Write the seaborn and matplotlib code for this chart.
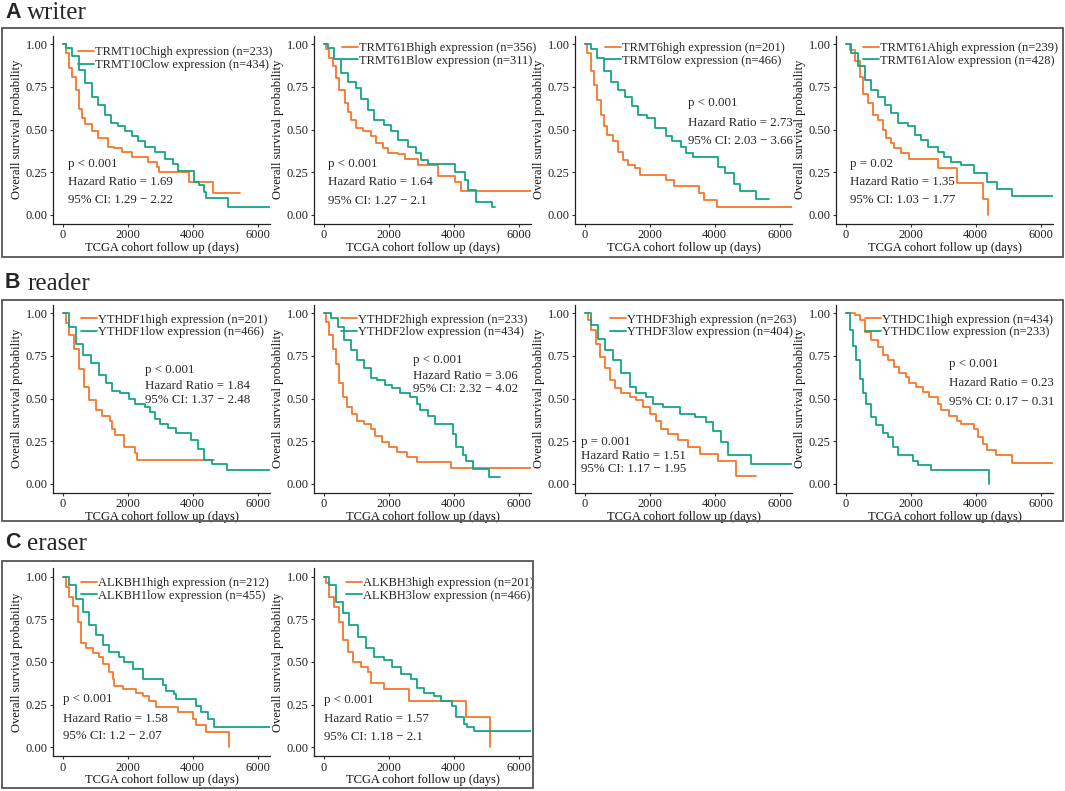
import matplotlib
matplotlib.use('Agg')
import matplotlib.pyplot as plt
import seaborn as sns
from matplotlib.patches import Rectangle
from matplotlib.lines import Line2D

sns.set_theme(style='white')
plt.rcParams['font.family'] = ['Liberation Serif', 'DejaVu Serif']

ORANGE = '#F4772C'
GREEN = '#14A585'

# ---------------- data ----------------
genes = ['TRMT10C', 'TRMT61B', 'TRMT6', 'TRMT61A',
         'YTHDF1', 'YTHDF2', 'YTHDF3', 'YTHDC1',
         'ALKBH1', 'ALKBH3']
n_high = [233, 356, 201, 239, 201, 233, 263, 434, 212, 201]
n_low = [434, 311, 466, 428, 466, 434, 404, 233, 455, 466]
p_texts = ['p < 0.001', 'p < 0.001', 'p < 0.001', 'p = 0.02',
           'p < 0.001', 'p < 0.001', 'p = 0.001', 'p < 0.001',
           'p < 0.001', 'p < 0.001']
hr_values = ['1.69', '1.64', '2.73', '1.35', '1.84', '3.06', '1.51', '0.23', '1.58', '1.57']
ci_values = ['1.29 − 2.22', '1.27 − 2.1', '2.03 − 3.66', '1.03 − 1.77',
             '1.37 − 2.48', '2.32 − 4.02', '1.17 − 1.95', '0.17 − 0.31',
             '1.2 − 2.07', '1.18 − 2.1']
x_ticks = [0, 2000, 4000, 6000]
y_ticks = [0.0, 0.25, 0.50, 0.75, 1.00]
y_tick_labels = ['0.00', '0.25', '0.50', '0.75', '1.00']

trmt10c_high_t = [0, 100, 200, 300, 400, 500, 600, 700, 900, 1100, 1400, 1570, 1820, 2120, 2630, 2890, 2950, 3900, 4630, 5470]
trmt10c_high_s = [1, 0.95, 0.86, 0.81, 0.73, 0.62, 0.57, 0.53, 0.49, 0.45, 0.40, 0.39, 0.37, 0.34, 0.31, 0.28, 0.25, 0.19, 0.127, 0.127]
trmt10c_low_t = [0, 100, 300, 500, 700, 900, 1100, 1300, 1500, 1700, 1920, 2120, 2320, 2530, 2830, 3140, 3390, 3540, 4040, 4200, 4350, 4400, 5100, 6500]
trmt10c_low_s = [1, 0.977, 0.93, 0.85, 0.77, 0.69, 0.645, 0.586, 0.537, 0.52, 0.49, 0.46, 0.43, 0.40, 0.37, 0.33, 0.30, 0.26, 0.195, 0.176, 0.137, 0.10, 0.049, 0.049]

trmt61b_high_t = [0, 70, 175, 280, 380, 480, 640, 740, 840, 1000, 1200, 1460, 1610, 1820, 1975, 2280, 2490, 2900, 3520, 4030, 4240, 6500]
trmt61b_high_s = [1, 0.97, 0.92, 0.87, 0.80, 0.73, 0.655, 0.60, 0.557, 0.51, 0.49, 0.46, 0.42, 0.39, 0.36, 0.355, 0.33, 0.29, 0.23, 0.195, 0.14, 0.14]
trmt61b_low_t = [0, 120, 330, 535, 740, 1000, 1150, 1360, 1560, 1870, 2080, 2280, 2590, 2850, 3000, 3210, 4030, 4340, 4440, 4700, 5180, 5260]
trmt61b_low_s = [1, 0.977, 0.91, 0.83, 0.78, 0.74, 0.68, 0.615, 0.557, 0.527, 0.49, 0.44, 0.40, 0.36, 0.32, 0.30, 0.25, 0.205, 0.146, 0.078, 0.045, 0.045]

trmt6_high_t = [0, 75, 180, 280, 390, 490, 600, 700, 860, 1020, 1175, 1330, 1540, 1700, 2490, 2750, 3530, 3670, 4060, 6500]
trmt6_high_s = [1, 0.95, 0.84, 0.76, 0.67, 0.586, 0.52, 0.47, 0.43, 0.37, 0.32, 0.293, 0.273, 0.234, 0.205, 0.172, 0.131, 0.088, 0.045, 0.045]
trmt6_low_t = [0, 180, 390, 600, 810, 1020, 1230, 1440, 1650, 1910, 2170, 2490, 2700, 2960, 3115, 3325, 4110, 4320, 4580, 4790, 5260, 5680]
trmt6_low_s = [1, 0.97, 0.92, 0.84, 0.78, 0.73, 0.69, 0.635, 0.586, 0.57, 0.51, 0.46, 0.43, 0.40, 0.365, 0.34, 0.283, 0.244, 0.18, 0.14, 0.094, 0.094]

trmt61a_high_t = [0, 120, 275, 430, 530, 685, 840, 990, 1145, 1250, 1400, 1500, 1700, 1960, 2830, 3440, 4210, 4380]
trmt61a_high_s = [1, 0.967, 0.90, 0.81, 0.71, 0.655, 0.586, 0.557, 0.50, 0.45, 0.42, 0.39, 0.36, 0.326, 0.273, 0.186, 0.092, 0.0]
trmt61a_low_t = [0, 170, 380, 580, 790, 990, 1200, 1400, 1600, 1910, 2120, 2320, 2520, 2830, 3035, 3240, 3550, 3955, 4360, 4670, 5130, 6500]
trmt61a_low_s = [1, 0.947, 0.87, 0.79, 0.73, 0.69, 0.645, 0.596, 0.537, 0.52, 0.47, 0.44, 0.40, 0.37, 0.34, 0.31, 0.29, 0.244, 0.195, 0.15, 0.113, 0.113]

ythdf1_high_t = [0, 100, 200, 355, 505, 660, 810, 1015, 1215, 1470, 1520, 1620, 1875, 1900, 2230, 2280, 4660]
ythdf1_high_s = [1, 0.94, 0.87, 0.79, 0.675, 0.57, 0.49, 0.43, 0.40, 0.37, 0.32, 0.284, 0.245, 0.216, 0.18, 0.143, 0.143]
ythdf1_low_t = [0, 200, 405, 610, 860, 1115, 1320, 1520, 1775, 2030, 2230, 2530, 2680, 2840, 2990, 3240, 3490, 3950, 4150, 4350, 4600, 5050, 6500]
ythdf1_low_s = [1, 0.92, 0.82, 0.755, 0.706, 0.64, 0.59, 0.545, 0.53, 0.50, 0.47, 0.45, 0.42, 0.38, 0.35, 0.33, 0.30, 0.255, 0.206, 0.141, 0.114, 0.082, 0.082]

ythdf2_high_t = [0, 70, 170, 275, 375, 475, 580, 730, 880, 1035, 1235, 1440, 1590, 1795, 2000, 2250, 2555, 2860, 3920, 6500]
ythdf2_high_s = [1, 0.95, 0.87, 0.79, 0.70, 0.59, 0.51, 0.45, 0.41, 0.37, 0.35, 0.32, 0.28, 0.245, 0.216, 0.186, 0.157, 0.127, 0.094, 0.094]
ythdf2_low_t = [0, 225, 425, 630, 830, 1035, 1235, 1440, 1640, 1895, 2100, 2350, 2655, 2860, 2960, 3210, 3415, 3975, 4080, 4280, 4380, 4580, 5090, 5440]
ythdf2_low_s = [1, 0.97, 0.92, 0.84, 0.784, 0.725, 0.676, 0.618, 0.61, 0.58, 0.56, 0.53, 0.51, 0.47, 0.43, 0.40, 0.353, 0.294, 0.216, 0.167, 0.133, 0.088, 0.043, 0.043]

ythdf3_high_t = [0, 100, 205, 360, 460, 615, 770, 925, 1130, 1385, 1590, 1795, 2000, 2205, 2360, 2565, 2870, 3180, 3540, 4100, 4665, 5280]
ythdf3_high_s = [1, 0.96, 0.90, 0.82, 0.745, 0.676, 0.61, 0.56, 0.53, 0.51, 0.49, 0.45, 0.41, 0.37, 0.32, 0.294, 0.255, 0.216, 0.176, 0.137, 0.049, 0.049]
ythdf3_low_t = [0, 205, 410, 615, 870, 1130, 1385, 1590, 1900, 2100, 2410, 2920, 3385, 3745, 3950, 4200, 4410, 5130, 6500]
ythdf3_low_s = [1, 0.93, 0.85, 0.784, 0.725, 0.647, 0.57, 0.53, 0.51, 0.47, 0.45, 0.41, 0.39, 0.36, 0.31, 0.245, 0.167, 0.114, 0.114]

ythdc1_high_t = [0, 275, 430, 580, 790, 990, 1145, 1300, 1500, 1650, 1860, 1960, 2165, 2370, 2575, 2830, 2930, 3190, 3440, 3545, 3950, 4060, 4210, 4360, 4620, 5130, 6500]
ythdc1_high_s = [1, 0.99, 0.96, 0.89, 0.84, 0.80, 0.755, 0.725, 0.686, 0.647, 0.627, 0.59, 0.57, 0.54, 0.51, 0.47, 0.43, 0.40, 0.37, 0.35, 0.32, 0.275, 0.235, 0.196, 0.167, 0.124, 0.124]
ythdc1_low_t = [0, 120, 225, 330, 430, 530, 635, 790, 940, 1145, 1300, 1450, 1600, 2065, 2220, 2630, 4420]
ythdc1_low_s = [1, 0.90, 0.81, 0.725, 0.617, 0.53, 0.47, 0.39, 0.345, 0.30, 0.275, 0.216, 0.167, 0.137, 0.108, 0.082, 0.0]

alkbh1_high_t = [0, 100, 205, 310, 460, 565, 720, 920, 1130, 1230, 1435, 1540, 1590, 1850, 2255, 2460, 2665, 2870, 3540, 4000, 4100, 4410, 5130]
alkbh1_high_s = [1, 0.94, 0.88, 0.83, 0.735, 0.61, 0.58, 0.55, 0.53, 0.49, 0.44, 0.40, 0.36, 0.343, 0.32, 0.30, 0.27, 0.235, 0.206, 0.167, 0.133, 0.088, 0.0]
alkbh1_low_t = [0, 205, 410, 615, 820, 1025, 1230, 1435, 1745, 1900, 2155, 2460, 3080, 3180, 3435, 3490, 4100, 4255, 4460, 4665, 6500]
alkbh1_low_s = [1, 0.95, 0.87, 0.79, 0.716, 0.657, 0.60, 0.56, 0.53, 0.50, 0.46, 0.40, 0.363, 0.333, 0.314, 0.284, 0.245, 0.206, 0.167, 0.118, 0.118]

alkbh3_high_t = [0, 70, 175, 325, 480, 580, 735, 890, 1145, 1350, 1450, 1860, 2630, 4365, 5130]
alkbh3_high_s = [1, 0.96, 0.88, 0.82, 0.735, 0.627, 0.56, 0.50, 0.47, 0.44, 0.38, 0.343, 0.27, 0.18, 0.0]
alkbh3_low_t = [0, 175, 380, 580, 790, 1040, 1300, 1555, 1860, 2115, 2370, 2680, 2880, 3085, 3390, 3600, 3950, 4060, 4310, 4415, 4640, 6500]
alkbh3_low_s = [1, 0.95, 0.85, 0.784, 0.716, 0.647, 0.58, 0.53, 0.51, 0.47, 0.43, 0.40, 0.35, 0.32, 0.30, 0.27, 0.245, 0.176, 0.137, 0.118, 0.094, 0.094]

high_curves = [(trmt10c_high_t, trmt10c_high_s), (trmt61b_high_t, trmt61b_high_s),
               (trmt6_high_t, trmt6_high_s), (trmt61a_high_t, trmt61a_high_s),
               (ythdf1_high_t, ythdf1_high_s), (ythdf2_high_t, ythdf2_high_s),
               (ythdf3_high_t, ythdf3_high_s), (ythdc1_high_t, ythdc1_high_s),
               (alkbh1_high_t, alkbh1_high_s), (alkbh3_high_t, alkbh3_high_s)]
low_curves = [(trmt10c_low_t, trmt10c_low_s), (trmt61b_low_t, trmt61b_low_s),
              (trmt6_low_t, trmt6_low_s), (trmt61a_low_t, trmt61a_low_s),
              (ythdf1_low_t, ythdf1_low_s), (ythdf2_low_t, ythdf2_low_s),
              (ythdf3_low_t, ythdf3_low_s), (ythdc1_low_t, ythdc1_low_s),
              (alkbh1_low_t, alkbh1_low_s), (alkbh3_low_t, alkbh3_low_s)]

# ---------------- layout (pixels) ----------------
FW, FH = 1065, 791
fig = plt.figure(figsize=(FW / 100, FH / 100), dpi=100)

col_left = [53, 314, 575, 836]
row_top = [35.5, 304.5, 568]
AX_W, AX_H = 217, 188
panel_rc = [(0, 0), (0, 1), (0, 2), (0, 3), (1, 0), (1, 1), (1, 2), (1, 3), (2, 0), (2, 1)]
ann_x = [150, 120, 3170, 120, 2530, 2760, -100, 3190, 0, 0]
ann_y = [(0.30, 0.19, 0.085), (0.30, 0.19, 0.08), (0.655, 0.54, 0.43), (0.30, 0.19, 0.085),
         (0.665, 0.572, 0.49), (0.724, 0.631, 0.557), (0.243, 0.165, 0.088), (0.704, 0.59, 0.478),
         (0.285, 0.167, 0.065), (0.278, 0.167, 0.059)]
leg_dx = [25, 28, 30, 27, 28, 27, 35, 29, 28, 32]
leg_dy = [15.5, 11.2, 11.2, 11.2, 13.8, 13.8, 13.8, 13.8, 13.7, 13.7]

for i in range(10):
    r, c = panel_rc[i]
    L, T = col_left[c], row_top[r]
    ax = fig.add_axes([L / FW, 1 - (T + AX_H) / FH, AX_W / FW, AX_H / FH])
    ht, hs = high_curves[i]
    lt, ls = low_curves[i]
    sns.lineplot(x=ht, y=hs, ax=ax, color=ORANGE, lw=1.3, drawstyle='steps-post',
                 estimator=None, sort=False)
    sns.lineplot(x=lt, y=ls, ax=ax, color=GREEN, lw=1.3, drawstyle='steps-post',
                 estimator=None, sort=False)
    ax.set_xlim(-300, 6380)
    ax.set_ylim(-0.05, 1.05)
    ax.set_xticks(x_ticks)
    ax.set_xticklabels([str(v) for v in x_ticks])
    ax.set_yticks(y_ticks)
    ax.set_yticklabels(y_tick_labels)
    for s in ['top', 'right']:
        ax.spines[s].set_visible(False)
    for s in ['left', 'bottom']:
        ax.spines[s].set_color('#222222')
        ax.spines[s].set_linewidth(0.9)
    ax.tick_params(axis='both', which='both', direction='out', length=2.5, width=0.8,
                   color='#333333', labelsize=8.9, labelcolor='#222222', pad=1.5,
                   left=True, bottom=True)
    ax.set_xlabel('TCGA cohort follow up (days)', fontsize=9, labelpad=0.5, color='#111111')
    ax.set_ylabel('Overall survival probability', fontsize=9, labelpad=1.5, color='#111111')
    ax.grid(False)
    ax.set_facecolor('none')
    # annotation
    y1, y2, y3 = ann_y[i]
    ax.text(ann_x[i], y1, p_texts[i], fontsize=9.3, va='center', ha='left')
    ax.text(ann_x[i], y2, 'Hazard Ratio = ' + hr_values[i], fontsize=9.3, va='center', ha='left')
    ax.text(ann_x[i], y3, '95% CI: ' + ci_values[i], fontsize=9.3, va='center', ha='left')
    # legend
    handles = [Line2D([], [], color=ORANGE, lw=1.3), Line2D([], [], color=GREEN, lw=1.3)]
    labels = [f'{genes[i]}high expression (n={n_high[i]})', f'{genes[i]}low expression (n={n_low[i]})']
    fx = leg_dx[i] / AX_W
    fy = 1 - (leg_dy[i] - 4.5) / AX_H
    ax.legend(handles, labels, loc='upper left', bbox_to_anchor=(fx, fy), frameon=False,
              fontsize=9, handlelength=1.25, handletextpad=0.1, labelspacing=0.05,
              borderpad=0, borderaxespad=0)

# group boxes
boxes = [(2, 28, 1063, 257), (2, 300, 1063, 521), (2, 561, 533, 788)]
for x1, y1, x2, y2 in boxes:
    fig.add_artist(Rectangle((x1 / FW, 1 - y2 / FH), (x2 - x1) / FW, (y2 - y1) / FH,
                             transform=fig.transFigure, fill=False, ec='#555555', lw=1.3))

titles = [('A', 'writer', 12), ('B', 'reader', 283), ('C', 'eraser', 543)]
for letter, word, yc in titles:
    fig.text(5 / FW, 1 - yc / FH, letter, fontsize=15.5, fontweight='bold',
             family=['Liberation Sans', 'DejaVu Sans'], va='center', ha='left')
    fig.text(27 / FW, 1 - (yc + 1) / FH, word, fontsize=18, va='center', ha='left')

fig.savefig('out.png', dpi=100)
